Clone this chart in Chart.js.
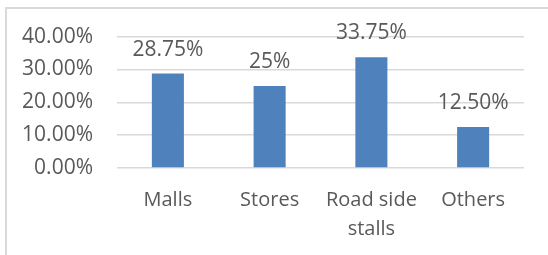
<!DOCTYPE html>
<html>
<head>
<meta charset="utf-8">
<script src="https://cdn.jsdelivr.net/npm/chart.js@4"></script>
<style>
  body { margin: 0; background: #fff; }
  #wrap { position: relative; width: 548px; height: 255px; }
  #frame { position: absolute; left: 5px; top: 7px; right: -2px; bottom: -2px; border: 2px solid #d9d9d9; }
  canvas { position: absolute; left: 0; top: 0; }
</style>
</head>
<body>
<div id="wrap">
  <div id="frame"></div>
  <canvas id="chart" width="548" height="255"></canvas>
</div>
<script>
const categories = ['Malls', 'Stores', ['Road side', 'stalls'], 'Others'];
const shares = [28.75, 25, 33.75, 12.5];
const shareLabels = ['28.75%', '25%', '33.75%', '12.50%'];
const yTicks = ['0.00%', '10.00%', '20.00%', '30.00%', '40.00%'];

const textColor = '#595959';
const fontFamily = '"Open Sans", "Noto Sans", sans-serif';

// labels above each bar
const valueLabels = {
    id: 'valueLabels',
    afterDatasetsDraw(chart) {
        const ctx = chart.ctx;
        const meta = chart.getDatasetMeta(0);
        ctx.save();
        ctx.fillStyle = textColor;
        ctx.font = '21px ' + fontFamily;
        ctx.textAlign = 'center';
        ctx.textBaseline = 'middle';
        meta.data.forEach((bar, i) => {
            ctx.fillText(shareLabels[i], bar.x, bar.y - 24);
        });
        ctx.restore();
    }
};

new Chart(document.getElementById('chart').getContext('2d'), {
    type: 'bar',
    data: {
        labels: categories,
        datasets: [{
            data: shares,
            backgroundColor: '#4f81bd',
            categoryPercentage: 1,
            barPercentage: 0.315
        }]
    },
    options: {
        responsive: false,
        animation: false,
        layout: { padding: { left: 0, top: 36, right: 24, bottom: 0 } },
        plugins: {
            legend: { display: false },
            tooltip: { enabled: false }
        },
        scales: {
            x: {
                grid: { display: false },
                border: { display: false },
                ticks: {
                    color: textColor,
                    font: { family: fontFamily, size: 20, lineHeight: 1.45 },
                    padding: 10,
                    maxRotation: 0
                },
                afterFit(scale) { scale.height = 87; }
            },
            y: {
                min: 0,
                max: 40,
                grid: { color: '#d9d9d9', lineWidth: 1.5, drawTicks: false },
                border: { display: false },
                ticks: {
                    stepSize: 10,
                    color: textColor,
                    font: { family: fontFamily, size: 21 },
                    padding: 24,
                    callback: (v, i) => yTicks[i]
                },
                afterFit(scale) { scale.width = 117; }
            }
        }
    },
    plugins: [valueLabels]
});
</script>
</body>
</html>
